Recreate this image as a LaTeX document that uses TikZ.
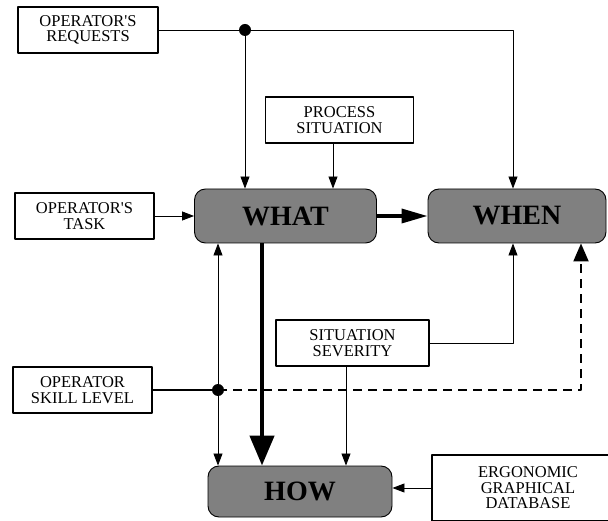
\documentclass[tikz,border=0pt]{standalone}
\usepackage{fontspec}
\setmainfont{Liberation Serif}
\usetikzlibrary{arrows.meta}
\begin{document}
\begin{tikzpicture}[x=1pt, y=-1pt, line join=round,
		box/.style={draw, line width=1.3pt, inner sep=0pt, align=center, font=\fontsize{16.5}{15.5}\selectfont, minimum height=46pt},
		phase/.style={draw, line width=0.9pt, fill=black!50, rounded corners=11pt, inner sep=0pt, font=\fontsize{28}{28}\selectfont\bfseries, minimum width=182pt, minimum height=54pt},
		conn/.style={line width=0.8pt, -{Triangle[length=12pt,width=9pt]}}]
		\useasboundingbox (0,0) rectangle (608,521);
		\def\r{6} % dot radius
		\node[box, minimum width=140pt] (req) at (88,30) {OPERATOR\textquotesingle S\\REQUESTS};
		\node[box, minimum width=148pt] (proc) at (339.5,120) {PROCESS\\SITUATION};
		\node[box, minimum width=139pt] (task) at (84.5,216) {OPERATOR\textquotesingle S\\TASK};
		\node[box, minimum width=139pt] (skill) at (82.5,390) {OPERATOR\\SKILL LEVEL};
		\node[box, minimum width=153pt] (sev) at (352.5,343) {SITUATION\\SEVERITY};
		\node[box, minimum width=192pt, minimum height=66pt] (erg) at (528,488) {ERGONOMIC\\GRAPHICAL\\DATABASE};
		\node[phase] (what) at (285.5,216) {WHAT};
		\node[phase, minimum width=178pt] (when) at (517,216) {WHEN};
		\node[phase, minimum width=184pt, minimum height=51pt] (how) at (300,491.5) {HOW};
		\coordinate (j1) at (245,30); % requests split
		\coordinate (j2) at (218,390); % skill split
		\coordinate (k) at (513,30);
		\coordinate (t) at (262,0);
		\coordinate (d) at (581,390);
		\draw[line width=0.8pt] (req.east) -- (j1);
		\draw[conn] (j1) -- (k) -- (k |- when.north);
		\draw[conn] (j1) -- (j1 |- what.north);
		\draw[conn] ([xshift=-6.5pt]proc.south) -- ([xshift=-6.5pt]proc.south |- what.north);
		\draw[conn] (task.east) -- (what.west);
		\draw[line width=3.5pt, -{Triangle[length=26pt,width=14pt]}] (what.east) -- (when.west);
		\draw[line width=4.5pt, -{Triangle[length=30pt,width=24pt]}] (t |- what.south) -- (t |- how.north);
		\draw[line width=2pt] (skill.east) -- (j2);
		\draw[conn] (j2) -- (j2 |- what.south);
		\draw[conn] (j2) -- (j2 |- how.north);
		\draw[line width=2pt, dash pattern=on 9pt off 6pt, -{Triangle[length=18pt,width=15pt]}] (j2) -- (d) -- (d |- when.south);
		\draw[conn] (sev.east) -| (k |- when.south);
		\draw[conn] ([xshift=-6.5pt]sev.south) -- ([xshift=-6.5pt]sev.south |- how.north);
		\draw[conn] (erg.west) -- (erg.west -| how.east);
		
		\foreach \i in {j1,j2} \fill[black] (\i) circle (\r pt);
\end{tikzpicture}
\end{document}
